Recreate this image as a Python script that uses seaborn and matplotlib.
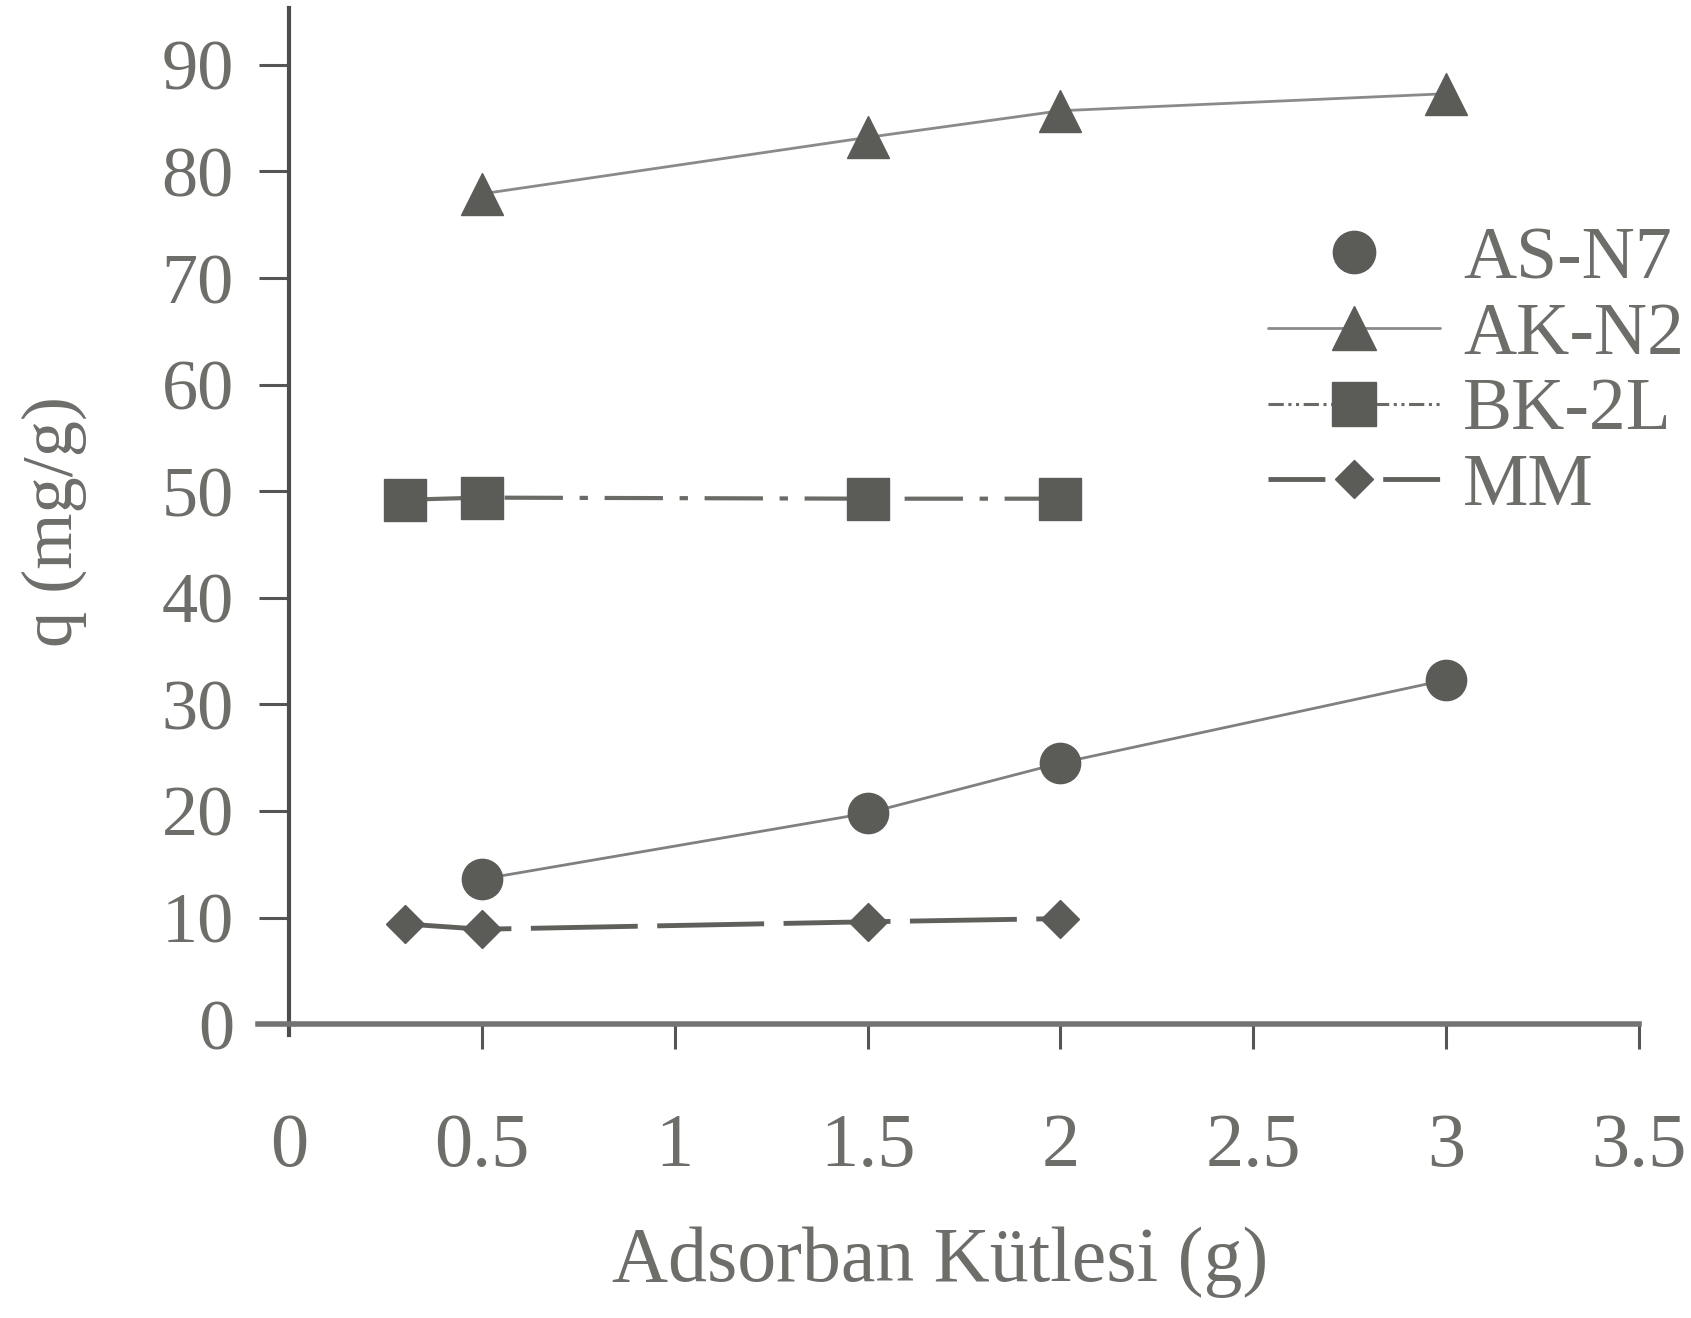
import matplotlib
matplotlib.use("Agg")
import matplotlib.pyplot as plt
from matplotlib.lines import Line2D
import pandas as pd
import seaborn as sns

# Adsorbent mass (g) versus adsorption capacity q (mg/g)
mass_asn7 = [0.5, 1.5, 2.0, 3.0]
q_asn7 = [13.6, 19.8, 24.5, 32.3]

mass_akn2 = [0.5, 1.5, 2.0, 3.0]
q_akn2 = [77.9, 83.2, 85.7, 87.3]

mass_bk2l = [0.3, 0.5, 1.5, 2.0]
q_bk2l = [49.2, 49.4, 49.3, 49.3]

mass_mm = [0.3, 0.5, 1.5, 2.0]
q_mm = [9.4, 8.9, 9.6, 9.9]

series_names = ["AS-N7", "AK-N2", "BK-2L", "MM"]
x_ticks = [0, 0.5, 1, 1.5, 2, 2.5, 3, 3.5]
x_tick_labels = ["0", "0.5", "1", "1.5", "2", "2.5", "3", "3.5"]
y_ticks = [0, 10, 20, 30, 40, 50, 60, 70, 80, 90]
x_label = "Adsorban Kütlesi (g)"
y_label = "q (mg/g)"

sns.set_style("ticks")
plt.rcParams["font.family"] = ["Liberation Serif", "DejaVu Serif"]

TEXT = "#6d6d69"
MARK = "#5b5c57"
LINE = "#808080"

fig = plt.figure(figsize=(16.91, 13.18), dpi=100)
ax = fig.add_axes([0.1526, 0.2149, 0.8167, 0.7787])

frames = {
    "AS-N7": pd.DataFrame({"mass": mass_asn7, "q": q_asn7}),
    "AK-N2": pd.DataFrame({"mass": mass_akn2, "q": q_akn2}),
    "BK-2L": pd.DataFrame({"mass": mass_bk2l, "q": q_bk2l}),
    "MM": pd.DataFrame({"mass": mass_mm, "q": q_mm}),
}

styles = {
    "AS-N7": dict(marker="o", markersize=29, color=LINE, linewidth=2.0,
                  linestyle="-"),
    "AK-N2": dict(marker="^", markersize=30, color="#8a8a8a", linewidth=2.0,
                  linestyle="-"),
    "BK-2L": dict(marker="s", markersize=30, color="#6a6a66", linewidth=3.0,
                  linestyle=(0, (14, 4, 2, 4))),
    "MM": dict(marker="D", markersize=19, color="#5f5f5c", linewidth=3.5,
               linestyle=(0, (22, 4))),
}

for name in series_names:
    st = styles[name]
    sns.lineplot(data=frames[name], x="mass", y="q", ax=ax,
                 marker=st["marker"], markersize=st["markersize"],
                 color=st["color"], linewidth=st["linewidth"],
                 linestyle=st["linestyle"],
                 markerfacecolor=MARK, markeredgecolor=MARK,
                 markeredgewidth=1, legend=False)

ax.set_xlim(-0.08, 3.5)
ax.set_ylim(-1.0, 95.3)

for side in ["top", "right"]:
    ax.spines[side].set_visible(False)
ax.spines["left"].set_position(("data", 0))
ax.spines["bottom"].set_position(("data", 0))
ax.spines["left"].set_color("#4d4d4b")
ax.spines["left"].set_linewidth(3.0)
ax.spines["bottom"].set_color("#747272")
ax.spines["bottom"].set_linewidth(4.0)

ax.set_xticks(x_ticks)
ax.set_xticklabels(x_tick_labels)
ax.set_yticks(y_ticks)
ax.set_yticklabels([str(v) for v in y_ticks])
ax.tick_params(axis="x", direction="out", length=18, width=2.2,
               color="#555553", pad=46, labelsize=55, labelcolor=TEXT)
ax.tick_params(axis="y", direction="out", length=21.6, width=2.2,
               color="#555553", pad=18, labelsize=52, labelcolor=TEXT)
ax.xaxis.get_major_ticks()[0].tick1line.set_visible(False)

ax.set_xlabel(x_label, fontsize=56, color=TEXT)
ax.set_ylabel(y_label, fontsize=52, color=TEXT)
ax.xaxis.set_label_coords(0.494, -0.187)
ax.yaxis.set_label_coords(-0.124, 0.5)

# legend: AS-N7 is shown as a bare marker; MM uses a split long-dash key
legend_ls = {
    "AS-N7": "none",
    "AK-N2": "-",
    "BK-2L": (0, (5, 1.5, 1, 1.5, 1, 1.5)),
    "MM": (0, (11.7, 11.9)),
}
legend_lw = {"AS-N7": 2.0, "AK-N2": 2.0, "BK-2L": 2.2, "MM": 3.5}
handles = []
for name in series_names:
    st = styles[name]
    handles.append(Line2D([], [], marker=st["marker"],
                          markersize=st["markersize"] * (1.05 if name != "MM" else 1.0),
                          color=st["color"], linewidth=legend_lw[name],
                          linestyle=legend_ls[name], markerfacecolor=MARK,
                          markeredgecolor=MARK))
leg = ax.legend(handles, series_names, loc="upper left",
                bbox_to_anchor=(0.7499, 0.828), bbox_transform=fig.transFigure,
                frameon=False, fontsize=53, handlelength=2.34,
                handletextpad=0.31, labelspacing=0.11, borderpad=0,
                borderaxespad=0)
for t in leg.get_texts():
    t.set_color(TEXT)

fig.savefig("out.png", dpi=100)
